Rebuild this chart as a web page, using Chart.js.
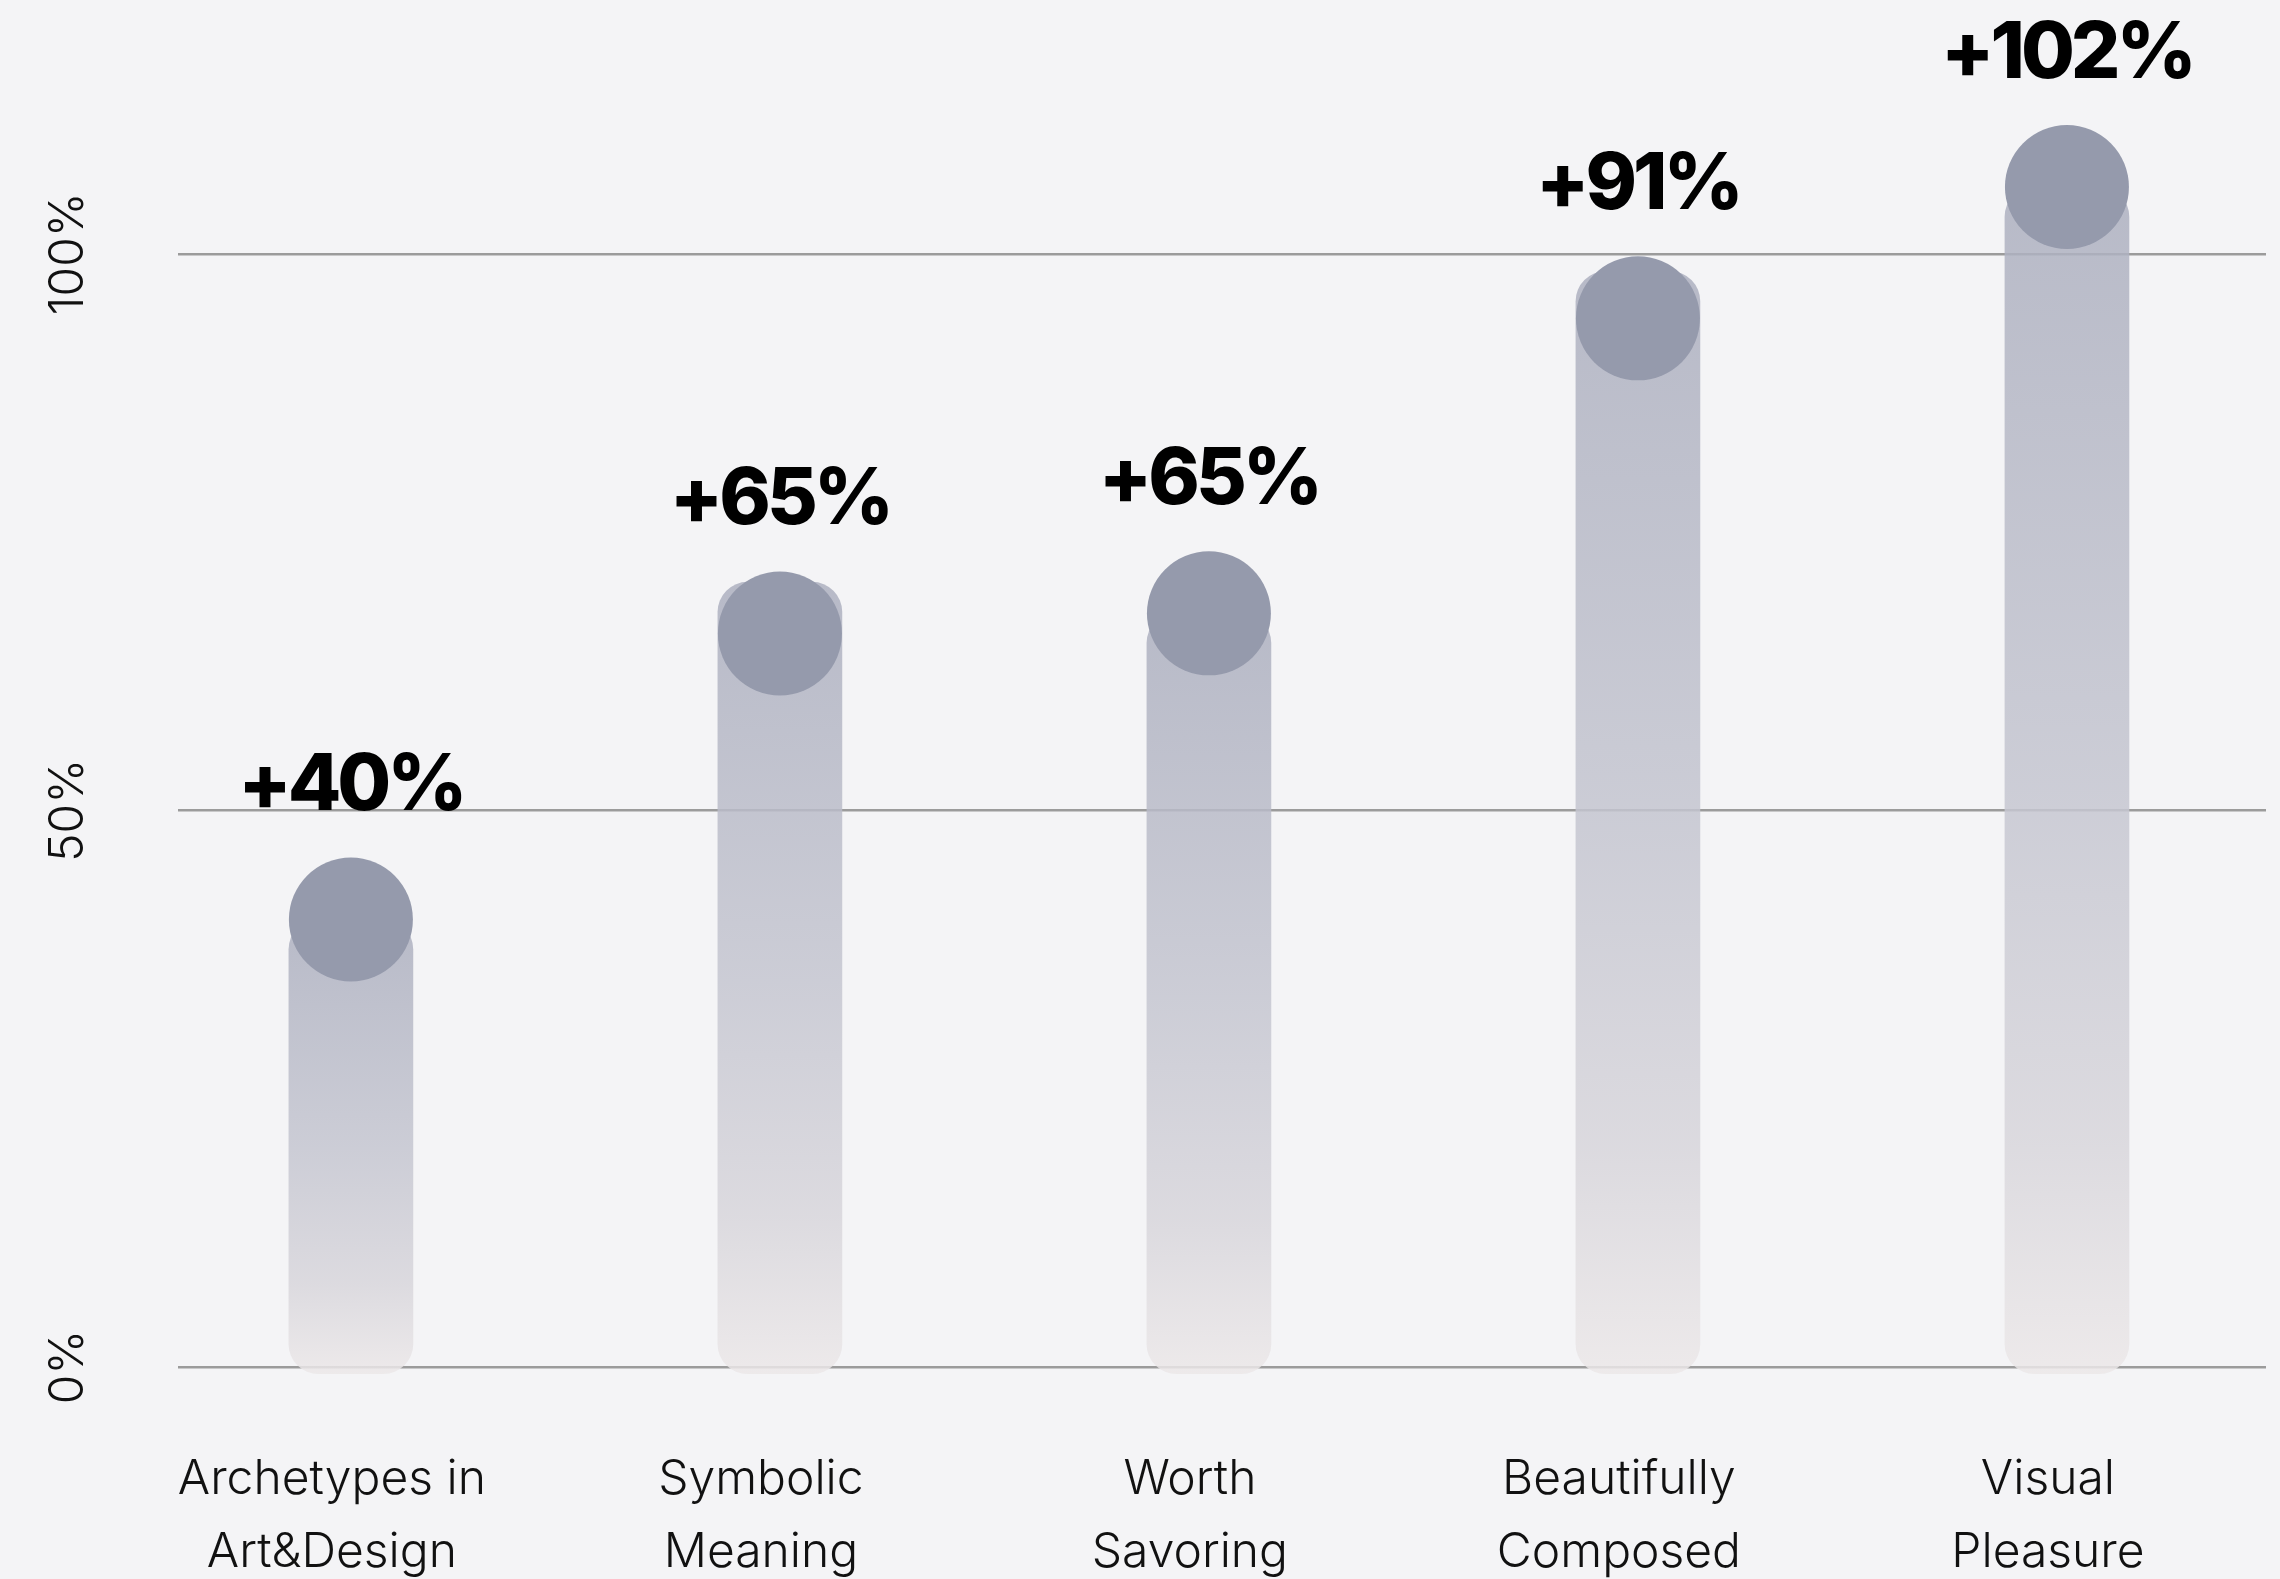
<!DOCTYPE html>
<html>
<head>
<meta charset="utf-8">
<title>Increase chart</title>
<script src="https://cdn.jsdelivr.net/npm/chart.js@4.4.1/dist/chart.umd.min.js"></script>
<style>
  html, body { margin: 0; padding: 0; background: #f4f4f6; }
  canvas { display: block; }
</style>
</head>
<body>
<canvas id="chart" width="2280" height="1579"></canvas>
<script>
// category labels, one entry per bar (split into lines)
const categories = [
  ["Archetypes in", "Art&Design"],
  ["Symbolic", "Meaning"],
  ["Worth", "Savoring"],
  ["Beautifully", "Composed"],
  ["Visual", "Pleasure"]
];
// printed increase above each marker (%)
const increaseLabels = [40, 65, 65, 91, 102];
// height of the round marker (%)
const markerValues = [40.2, 65.9, 67.7, 94.2, 106.0];
// top of each rounded bar (%)
const barTops = [40.2, 70.5, 67.7, 98.4, 106.0];
// bars start a little below the zero line
const barBase = -0.6;
// y axis tick values
const yTicks = [0, 50, 100];

const FALLBACK_BAR = "rgba(196,197,208,0.85)";

// vertical fade for each bar, from its own top to its bottom
function barGradient(ctx) {
  const chart = ctx.chart;
  const y = chart.scales.y;
  if (!y || ctx.type !== "data") return FALLBACK_BAR;
  const i = ctx.dataIndex;
  const top = y.getPixelForValue(barTops[i]);
  const bottom = y.getPixelForValue(barBase);
  if (!isFinite(top) || !isFinite(bottom) || top === bottom) return FALLBACK_BAR;
  const g = chart.ctx.createLinearGradient(0, top, 0, bottom);
  g.addColorStop(0, "rgba(172,175,191,0.85)");
  g.addColorStop(0.5, "rgba(196,197,208,0.85)");
  g.addColorStop(0.8, "rgba(215,213,219,0.85)");
  g.addColorStop(1, "rgba(235,231,232,0.85)");
  return g;
}

// bold "+NN%" text above each marker
const increaseLabelPlugin = {
  id: "increaseLabels",
  afterDatasetsDraw(chart) {
    const meta = chart.getDatasetMeta(0);
    const c = chart.ctx;
    c.save();
    c.font = "800 78px Inter";
    c.letterSpacing = "-4px";
    c.fillStyle = "#000";
    c.textAlign = "center";
    c.textBaseline = "alphabetic";
    meta.data.forEach((pt, i) => {
      const r = pt.options.radius;
      c.fillText("+" + increaseLabels[i] + "%", pt.x, pt.y - r - 47);
    });
    c.restore();
  }
};

function draw() {
  const chart = new Chart(document.getElementById("chart"), {
    type: "bar",
    data: {
      datasets: [
        {
          type: "line",
          label: "marker",
          data: markerValues.map((v, i) => ({ x: i, y: v })),
          showLine: false,
          pointRadius: 62,
          pointHoverRadius: 62,
          pointBackgroundColor: "#959aac",
          pointBorderWidth: 0,
          order: 0,
          clip: false
        },
        {
          type: "bar",
          label: "bar",
          data: barTops.map((v, i) => ({ x: i, y: [barBase, v] })),
          backgroundColor: barGradient,
          borderRadius: 30,
          borderSkipped: false,
          barThickness: 124,
          order: 1,
          clip: false
        }
      ]
    },
    options: {
      responsive: false,
      animation: false,
      events: [],
      layout: {
        autoPadding: false,
        padding: { top: 0, right: 14, bottom: 0, left: 0 }
      },
      plugins: {
        legend: { display: false },
        tooltip: { enabled: false }
      },
      scales: {
        x: {
          type: "linear",
          offset: false,
          min: -0.403,
          max: 4.464,
          grid: { display: false },
          border: { display: false },
          ticks: {
            stepSize: 1,
            includeBounds: false,
            autoSkip: false,
            maxRotation: 0,
            padding: 68,
            labelOffset: -19,
            color: "#111",
            font: { family: "Inter", size: 48, weight: 300, lineHeight: 1.52 },
            callback: (v) => categories[v] || ""
          },
          afterFit: (s) => {
            s.height = 212;
            s.paddingLeft = 0;
            s.paddingRight = 0;
          }
        },
        y: {
          min: 0,
          max: 122.8,
          afterBuildTicks: (s) => {
            s.ticks = yTicks.map((v) => ({ value: v }));
          },
          grid: { color: "#9b9b9b", lineWidth: 2.5, drawTicks: false },
          border: { display: false },
          ticks: {
            minRotation: 90,
            maxRotation: 90,
            crossAlign: "center",
            padding: 48,
            color: "#111",
            font: { family: "Inter", size: 48, weight: 300 },
            callback: (v) => v + "%"
          },
          afterFit: (s) => {
            s.width = 178;
            s.paddingTop = 0;
            s.paddingBottom = 0;
          }
        }
      }
    },
    plugins: [increaseLabelPlugin]
  });
  // second pass so the gradients see the final scale
  chart.update();
}

Promise.all([
  document.fonts.load("300 45px Inter"),
  document.fonts.load("800 82px Inter")
]).then(draw, draw);
</script>
</body>
</html>
